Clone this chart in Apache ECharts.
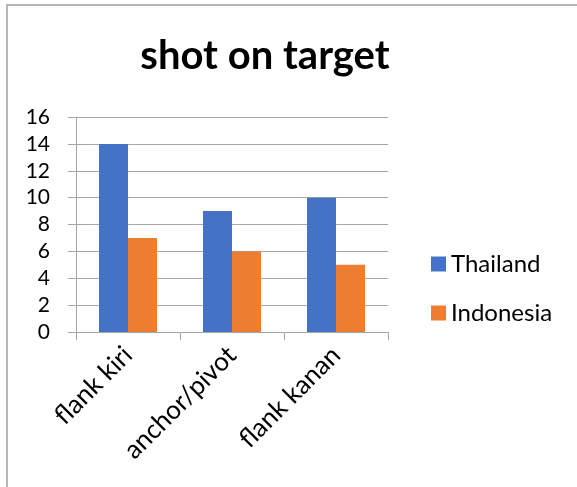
<!DOCTYPE html>
<html><head><meta charset="utf-8">
<script src="https://cdn.jsdelivr.net/npm/echarts@6/dist/echarts.min.js"></script>
<style>html,body{margin:0;padding:0;background:#fff}#c{width:577px;height:487px}</style>
</head><body><div id="c"></div>
<script>
var categories = ['flank kiri', 'anchor/pivot', 'flank kanan'];
var thailand = [14, 9, 10];
var indonesia = [7, 6, 5];
var seriesNames = ['Thailand', 'Indonesia'];
var FONT = 'Lato, "Open Sans", sans-serif';
var chart = echarts.init(document.getElementById('c'), null, {renderer: 'canvas'});
chart.setOption({
  animation: false,
  backgroundColor: '#fff',
  graphic: [{type: 'rect', shape: {x: 7, y: 5, width: 600, height: 520}, style: {fill: 'none', stroke: '#a0a0a0', lineWidth: 1.5}, silent: true}],
  title: {text: 'shot on target', left: 260, textAlign: 'center', top: 31,
    textStyle: {fontFamily: FONT, fontWeight: 'bold', fontSize: 40, color: '#000'}},
  legend: {orient: 'vertical', left: 426, top: 247, itemWidth: 15, itemHeight: 15, itemGap: 25,
    icon: 'rect', textStyle: {fontFamily: FONT, fontSize: 24, color: '#000'}, data: seriesNames},
  grid: {left: 76, right: 189, top: 117, bottom: 155, containLabel: false},
  xAxis: {type: 'category', data: categories,
    axisLine: {lineStyle: {color: '#a6a6a6', width: 1}},
    axisTick: {show: true, length: 8, lineStyle: {color: '#a6a6a6'}},
    axisLabel: {rotate: 45, margin: 19, fontFamily: FONT, fontSize: 26, color: '#000'}},
  yAxis: {type: 'value', min: 0, max: 16, interval: 2,
    axisLine: {show: true, lineStyle: {color: '#a6a6a6', width: 1}},
    axisTick: {show: true, length: 8, lineStyle: {color: '#a6a6a6'}},
    splitLine: {lineStyle: {color: '#a6a6a6', width: 1}},
    axisLabel: {margin: 26, fontFamily: FONT, fontSize: 21, color: '#000'}},
  series: [
    {name: seriesNames[0], type: 'bar', data: thailand, barWidth: 29, barGap: '0%', itemStyle: {color: '#4472c4'}},
    {name: seriesNames[1], type: 'bar', data: indonesia, barWidth: 29, barGap: '0%', itemStyle: {color: '#ed7d31'}}
  ]
});
</script></body></html>
